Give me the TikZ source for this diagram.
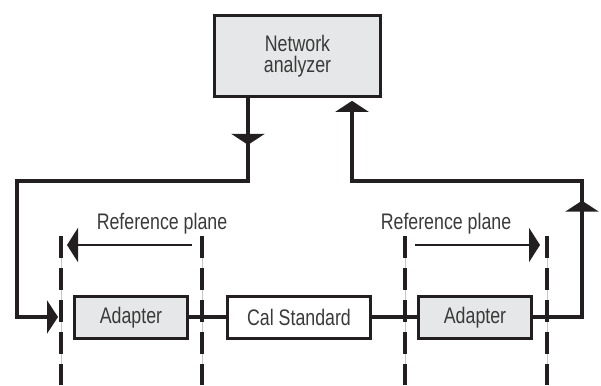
\documentclass[tikz,border=0pt]{standalone}
\usepackage{fontspec}
\setmainfont{Liberation Sans}[FakeStretch=0.79]
\usetikzlibrary{arrows.meta, decorations.markings}

\definecolor{boxgray}{HTML}{E6E7E8}
\definecolor{txtgray}{HTML}{3A3A3A}
\definecolor{ink}{HTML}{231F20}

\begin{document}
\begin{tikzpicture}[x=1pt, y=1pt,
  unit/.style={draw=ink, line width=2.7pt, fill=boxgray, text=txtgray, align=center,
    font=\fontsize{22.5}{21}\selectfont, inner sep=0pt},
  lbl/.style={text=txtgray, font=\fontsize{22.5}{21}\selectfont, inner sep=0pt, anchor=base},
  feed/.style={draw=ink, line width=4pt, -{Triangle[width=33pt,length=11pt]}},
  midarrow/.style={decoration={markings,
    mark=at position #1 with {\arrow{Triangle[width=33pt,length=11pt]}}},
    postaction={decorate}},
  link/.style={draw=ink, line width=4pt},
  refarrow/.style={draw=ink, line width=2.7pt, -{Triangle[width=34pt,length=11pt]}},
  plane/.style={draw=ink, line width=4pt, dash pattern=on 22pt off 10pt},
  planeguide/.style={draw=gray!45, line width=0.8pt}
]
\useasboundingbox (0,0) rectangle (601,385);

% instrument and devices
\node[unit, minimum width=166pt, minimum height=81pt] (na) at (297.5,329) {Network\\analyzer};
\node[unit, minimum width=113pt, minimum height=42pt] (adL) at (131,67.5) {Adapter};
\node[unit, fill=white, minimum width=143pt, minimum height=42pt] (cal) at (299,67.5) {Cal Standard};
\node[unit, minimum width=113pt, minimum height=42pt] (adR) at (475,67.5) {Adapter};

% corners of the cabling
\coordinate (tx) at (248,204);
\coordinate (rx) at (352,204);
\coordinate (lc) at (17,204);
\coordinate (rc) at (582,204);
\coordinate (inL) at (58,68);

% reference planes
\foreach \name/\px in {p1/61, p2/202, p3/405, p4/547} {
  \coordinate (\name top) at (\px,149);
  \coordinate (\name bot) at (\px,0);
  \draw[planeguide] (\name top) -- (\name bot);
  \draw[plane] (\name top) -- (\name bot);
}

% cables
\draw[feed, midarrow=47pt] (na.south -| tx) -- (tx) -- (lc) |- (inL);
\draw[feed, midarrow=166pt, shorten >=3pt] (adR.east) -| (rc) -- (rx) -- (rx |- na.south);
\draw[link] (adL.east) -- (cal.west);
\draw[link] (cal.east) -- (adR.west);

% reference plane shifts
\coordinate (rLs) at (192,140);
\coordinate (rLe) at (67,140);
\coordinate (rRs) at (415,140);
\coordinate (rRe) at (540,140);
\draw[refarrow] (rLs) -- (rLe);
\draw[refarrow] (rRs) -- (rRe);
\node[lbl] (refL) at (162,155) {Reference plane};
\node[lbl] (refR) at (446,155) {Reference plane};

\end{tikzpicture}
\end{document}
